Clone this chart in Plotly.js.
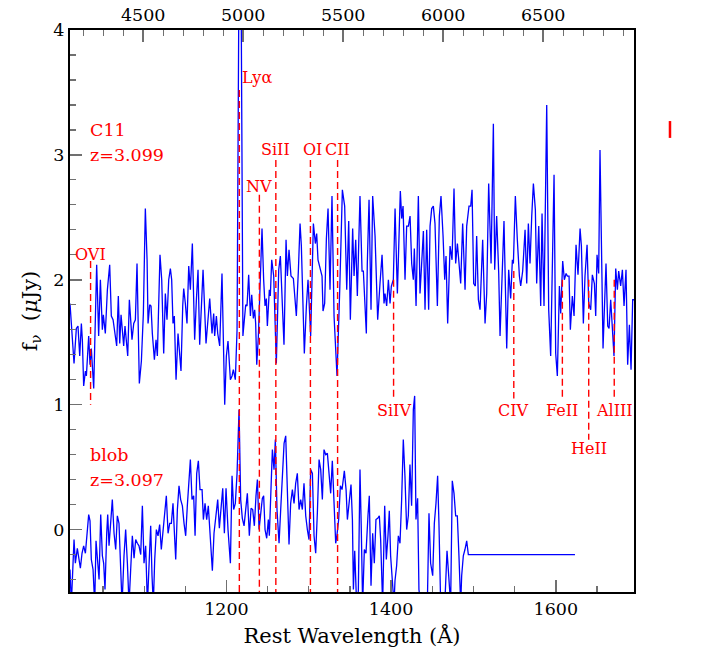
<!DOCTYPE html>
<html>
<head>
<meta charset="utf-8">
<script src="https://cdn.plot.ly/plotly-3.0.1.min.js"></script>
<style>html,body{margin:0;padding:0;background:#fff;}#chart{width:702px;height:655px;}</style>
</head>
<body>
<div id="chart"></div>
<script>
// ---------------- DATA ----------------
// C11 spectrum (rest wavelength in Angstrom, flux in microJy)
const waveC11 = [1010,1013.7,1014.9,1017.7,1019.7,1021.8,1023.8,1025.0,1026.6,1028.7,1029.9,1032.7,1034.3,1035.9,1038.8,1040.0,1042.4,1044.8,1046.9,1049.3,1050.5,1052.9,1055.4,1058.2,1060.2,1062.3,1064.3,1066.7,1068.7,1070.4,1072.0,1073.6,1075.2,1076.8,1078.5,1080.1,1082.1,1083.7,1085.3,1087.4,1089.4,1091.4,1093.0,1094.2,1096.7,1099.1,1101.5,1103.6,1104.8,1106.8,1108.4,1110.0,1112.5,1114.5,1116.1,1119.3,1121.4,1123.8,1125.8,1127.8,1129.9,1131.9,1133.5,1135.1,1136.7,1138.8,1141.2,1144.8,1146.9,1148.1,1150.1,1152.1,1154.2,1156.2,1158.6,1161.4,1163.5,1165.5,1167.5,1171.6,1175.2,1179.7,1182.5,1184.5,1185.7,1187.8,1189.4,1191.8,1194.6,1196.3,1197.9,1199.9,1201.9,1204.8,1206.8,1208.4,1210.8,1212.9,1216.5,1220.0,1223.4,1225.0,1227.0,1229.1,1230.7,1232.7,1234.3,1235.5,1236.8,1238.8,1240.8,1243.2,1245.2,1246.9,1248.5,1249.7,1252.1,1253.3,1255.0,1257.4,1260.6,1263.5,1265.5,1267.9,1269.9,1272.4,1274.0,1276.0,1278.4,1281.3,1284.9,1287.4,1289.4,1291.0,1294.6,1297.1,1299.1,1302.3,1305.6,1308.0,1309.6,1311.2,1313.7,1316.1,1317.3,1319.3,1321.4,1323.4,1325.8,1328.2,1330.7,1334.3,1337.6,1340.8,1343.6,1346.1,1348.5,1350.5,1353.3,1355.0,1357.0,1359.0,1362.2,1364.7,1366.3,1367.9,1369.9,1371.1,1373.2,1375.6,1377.6,1380.5,1383.7,1386.5,1389.0,1391.4,1392.6,1394.6,1396.7,1398.7,1400.3,1402.7,1404.8,1407.6,1409.2,1411.2,1412.9,1414.5,1416.9,1418.9,1421.0,1423.0,1425.0,1427.0,1428.2,1430.3,1433.1,1435.1,1437.1,1439.2,1441.2,1443.2,1445.6,1447.3,1449.3,1451.3,1453.3,1456.2,1458.6,1460.6,1463.1,1465.1,1466.7,1468.7,1471.6,1474.0,1476.4,1478.4,1480.5,1482.5,1484.5,1486.9,1489.8,1491.8,1494.6,1496.7,1498.3,1500.3,1502.3,1503.9,1506.0,1508.0,1511.2,1514.1,1516.1,1518.5,1521.4,1524.2,1525.8,1528.2,1530.7,1532.3,1535.1,1537.1,1540.4,1542.8,1545.2,1547.3,1548.5,1550.9,1553.3,1555.8,1557.4,1559.8,1562.7,1564.7,1566.7,1568.7,1570.8,1572.8,1575.2,1576.8,1579.3,1581.7,1583.3,1585.7,1589.0,1591.4,1593.8,1596.3,1597.9,1599.9,1601.9,1604.4,1606.0,1608.4,1610.4,1612.5,1614.1,1616.1,1617.7,1620.1,1622.2,1624.6,1627.0,1629.5,1631.1,1633.5,1635.5,1638.0,1640.0,1642.4,1644.4,1646.9,1648.5,1650.1,1652.1,1653.7,1655.8,1657.4,1659.0,1661.0,1663.1,1664.7,1666.7,1668.7,1670.7,1672.8,1674.8,1676.4,1678.8,1680.9,1682.9,1685.3,1687.3,1689.4,1691.4,1693.4,1695];
const fluxC11 = [1.81,1.41,1.33,1.61,1.63,1.39,1.65,1.52,1.15,1.27,1.23,1.55,1.32,1.45,1.13,1.47,2.12,1.55,2.00,1.60,1.72,1.57,1.92,2.12,1.71,1.68,1.57,1.47,1.87,1.49,1.72,1.57,1.47,1.63,1.47,1.39,1.84,1.63,1.52,1.65,1.68,2.13,1.68,1.17,1.35,1.73,2.57,2.16,1.65,1.80,1.79,1.57,1.36,1.52,1.39,2.20,2.00,1.41,1.89,1.68,2.00,2.09,2.00,1.65,1.71,1.20,1.57,1.27,1.79,1.93,1.81,1.65,2.11,1.92,2.29,1.52,1.84,2.08,1.48,2.08,1.49,1.85,1.57,1.73,1.55,1.71,1.57,1.47,2.05,1.44,1.00,1.39,1.51,1.20,1.23,1.28,1.20,1.60,6.0,1.55,1.80,1.79,2.04,1.71,1.88,1.69,1.76,1.65,1.32,1.55,1.89,2.41,2.00,1.79,1.85,1.63,1.92,1.87,2.16,2.03,1.33,2.08,2.19,1.75,1.48,2.32,2.03,2.24,2.03,2.01,1.71,2.08,2.45,2.27,1.41,1.79,2.00,1.55,2.45,2.29,2.37,2.16,2.08,2.03,1.75,1.81,2.33,2.57,1.92,2.67,1.71,1.23,1.92,2.72,2.59,1.92,2.47,1.68,2.41,2.03,2.32,1.87,2.67,2.07,2.07,1.84,1.57,2.13,2.64,1.76,2.67,2.35,1.68,1.97,2.20,1.81,1.89,1.79,2.00,1.81,1.95,2.00,2.57,1.89,2.37,2.71,2.49,2.59,2.00,2.43,2.43,2.51,2.13,2.00,2.25,1.79,2.67,1.89,2.13,2.39,1.76,2.40,1.76,2.43,2.57,2.59,2.45,1.79,2.51,2.67,2.35,2.00,2.19,1.65,2.27,2.16,2.73,2.13,2.29,2.11,1.97,2.45,1.92,2.43,2.59,2.59,2.72,1.97,1.95,2.35,1.84,1.76,2.32,1.65,1.89,2.77,2.13,3.25,2.08,2.51,2.05,1.55,2.11,2.47,1.45,2.08,1.85,2.16,2.13,2.67,2.32,2.03,1.95,2.07,2.40,1.97,2.45,2.13,2.51,2.77,2.56,1.97,2.43,1.79,2.53,1.79,3.40,1.76,1.39,2.29,2.84,1.41,1.23,1.95,1.73,2.15,2.00,2.05,2.03,2.03,1.60,1.87,1.71,2.28,2.04,2.41,2.27,1.65,2.03,2.28,1.81,1.76,2.04,1.97,1.71,2.20,2.05,3.04,2.08,1.45,1.76,2.13,1.63,1.61,1.84,1.56,1.39,2.09,1.92,2.07,1.95,2.08,1.79,2.08,1.32,1.64,1.28,1.84,1.84];

// blob spectrum
const waveBlob = [1010,1011.6,1014.9,1016.5,1018.9,1020.6,1022.6,1024.6,1026.6,1028.7,1030.7,1032.7,1034.3,1035.9,1038.0,1040.0,1041.6,1043.6,1045.3,1047.3,1049.3,1050.9,1052.5,1054.6,1055.8,1057.4,1059.0,1061.4,1063.5,1065.5,1067.5,1069.5,1071.6,1073.2,1075.6,1077.6,1079.7,1081.7,1083.7,1085.7,1087.8,1089.8,1091.8,1093.8,1095.9,1097.9,1099.9,1101.9,1104.0,1106.0,1108.0,1109.6,1111.2,1112.9,1114.9,1116.9,1118.9,1120.9,1123.0,1125.0,1127.0,1129.1,1131.1,1133.1,1135.1,1137.2,1138.4,1140.4,1142.4,1144.4,1146.5,1148.5,1150.5,1152.5,1154.6,1156.2,1158.2,1160.2,1161.9,1163.9,1165.9,1167.9,1170.4,1172.0,1174.0,1176.0,1178.0,1180.5,1182.9,1184.9,1187.4,1189.4,1191.4,1193.4,1195.5,1197.5,1199.5,1201.9,1204.8,1206.8,1208.8,1210.8,1212.9,1215.3,1217.3,1219.3,1221.4,1223.4,1225.4,1227.8,1229.9,1231.9,1233.9,1235.9,1237.6,1239.6,1241.6,1243.6,1245.2,1246.9,1248.9,1250.9,1252.1,1253.8,1255.8,1257.8,1259.4,1261.4,1263.9,1265.9,1268.3,1270.0,1272.0,1274.0,1276.0,1278.0,1280.1,1282.1,1284.1,1286.1,1288.2,1290.2,1292.2,1294.2,1296.3,1298.3,1300.3,1302.3,1304.4,1306.4,1308.4,1310.4,1312.5,1314.5,1316.5,1318.5,1320.6,1322.6,1324.6,1326.6,1328.6,1330.7,1332.7,1334.3,1336.3,1338.4,1340.4,1343.2,1345.3,1346.9,1349.3,1351.3,1353.0,1354.2,1355.8,1358.1,1360.2,1362.2,1363.8,1365.4,1367.5,1369.5,1371.9,1373.5,1375.6,1377.6,1379.6,1381.6,1383.7,1385.7,1387.3,1389.7,1392.2,1394.2,1396.2,1397.8,1399.4,1401.5,1403.5,1404.7,1406.7,1408.8,1410.8,1412.8,1414.8,1416.8,1418.9,1420.9,1422.9,1424.9,1427.0,1428.6,1430.2,1432.2,1433.8,1435.9,1438.3,1441.1,1444.0,1446.0,1448.0,1450.5,1452.5,1454.5,1456.5,1458.1,1460.2,1463.4,1465.8,1467.9,1469.9,1472.3,1474.3,1476.4,1478.4,1480.4,1482.4,1484.5,1485.7,1487.7,1489.7,1491.8,1493.8,1623.3];
const fluxBlob = [-0.32,-0.60,-0.08,-0.27,-0.15,-0.21,-0.31,-0.19,-0.13,-0.19,-0.05,0.12,0.07,-0.24,-0.32,-0.60,-0.09,-0.29,-0.40,0.12,-0.21,-0.27,-0.48,-0.03,0.12,-0.13,0.05,0.24,-0.03,-0.16,0.11,0.05,-0.32,-0.60,-0.21,0.00,-0.27,-0.60,-0.32,-0.05,-0.23,-0.08,-0.11,-0.13,-0.20,0.19,-0.27,-0.13,-0.60,-0.29,0.03,-0.37,-0.60,-0.24,0.00,-0.05,0.04,-0.16,-0.03,0.11,0.27,-0.03,0.05,0.05,0.21,-0.08,-0.24,0.16,0.35,0.24,0.19,0.05,-0.05,0.19,0.37,0.56,0.24,0.27,-0.05,0.45,0.55,0.32,0.32,0.08,0.21,0.08,0.19,-0.05,-0.33,-0.03,0.11,0.24,0.01,0.21,0.33,-0.03,0.33,0.00,-0.27,0.43,0.16,0.21,0.45,0.96,0.24,0.09,0.03,0.16,0.29,-0.05,0.17,0.16,0.03,0.27,0.40,0.00,0.11,0.25,0.27,0.00,-0.07,0.08,-0.05,0.24,0.64,0.48,0.72,0.16,-0.11,0.16,0.48,0.69,0.75,0.27,-0.12,0.21,0.32,0.21,0.37,0.45,0.16,0.24,0.16,0.37,0.11,0.00,-0.08,0.48,0.45,-0.05,-0.19,0.13,0.56,0.48,0.24,0.64,0.60,0.61,0.45,0.29,0.55,0.19,-0.11,-0.04,0.08,0.35,0.32,0.47,0.32,0.08,0.24,0.36,0.08,-0.48,-0.17,-0.60,-0.49,0.48,0.00,-0.60,-0.16,-0.19,0.11,0.27,-0.45,-0.03,-0.27,0.08,0.09,0.11,-0.08,-0.60,0.19,-0.24,-0.05,0.15,-0.21,-0.43,-0.60,-0.41,-0.29,-0.05,-0.11,0.24,0.72,0.43,0.00,0.11,0.52,0.19,0.96,1.07,0.08,0.25,-0.48,-0.60,-0.60,-0.60,-0.60,0.13,-0.27,-0.37,0.05,0.21,0.43,0.05,-0.60,-0.60,-0.50,-0.17,-0.37,-0.60,0.39,0.29,0.11,0.11,-0.21,-0.60,-0.37,-0.21,-0.16,-0.09,-0.20,-0.20];

// Spectral features (rest wavelength, Angstrom)
const lineNames = ["OVI", "Lyα", "NV", "SiII", "OI", "CII", "SiIV", "CIV", "FeII", "HeII", "AlIII"];
const lineWaves = [1035, 1215.67, 1240, 1260, 1302, 1335, 1403, 1549, 1608, 1640, 1671];

const objectLabels = ["C11", "z=3.099", "blob", "z=3.097"];

const restRange = [1010, 1695];
const obsRange = [4134, 6954];
const yRange = [-0.5, 4];

// ---------------- LAYOUT CONFIG ----------------
// dashed marker extents [top, bottom] and label positions [x, y]
const markExtent = [[2.15,1.0],[3.52,-0.6],[2.68,-0.6],[2.96,-0.6],[2.96,-0.6],[2.96,-0.6],[2.0,1.05],[2.07,1.05],[2.0,1.05],[2.0,0.72],[2.0,1.05]];
const labelPos = [[1035,2.2],[1237,3.62],[1240,2.75],[1260,3.04],[1304,3.04],[1335,3.04],[1403.5,0.95],[1549,0.95],[1608,0.95],[1640,0.65],[1671,0.95]];
const objLabelPos = [[1031.5,3.2],[1031.5,3.0],[1031.5,0.6],[1031.5,0.4]];

const FONT = "DejaVu Serif, serif";
const RED = "#ff0000";
const BLUE = "#0000ff";
const TICKC = "#707070";

const traces = [
  {x: waveC11, y: fluxC11, type: "scatter", mode: "lines", line: {color: BLUE, width: 1.3}, hoverinfo: "skip", showlegend: false},
  {x: waveBlob, y: fluxBlob, type: "scatter", mode: "lines", line: {color: BLUE, width: 1.3}, hoverinfo: "skip", showlegend: false}
];
lineWaves.forEach((w, i) => {
  traces.push({x: [w, w], y: markExtent[i], type: "scatter", mode: "lines",
    line: {color: RED, width: 1.4, dash: "7px,4px"}, hoverinfo: "skip", showlegend: false});
});
// carrier trace for the top (observed wavelength) axis
traces.push({x: obsRange, y: [-10, -10], xaxis: "x2", yaxis: "y", type: "scatter", mode: "lines",
  line: {color: "rgba(0,0,0,0)"}, hoverinfo: "skip", showlegend: false});

const annotations = [];
lineNames.forEach((n, i) => {
  annotations.push({x: labelPos[i][0], y: labelPos[i][1], xref: "x", yref: "y", text: n, showarrow: false,
    xanchor: "center", yanchor: "middle", font: {family: FONT, size: 16, color: RED}});
});
objectLabels.forEach((t, i) => {
  annotations.push({x: objLabelPos[i][0], y: objLabelPos[i][1], xref: "x", yref: "y", text: t, showarrow: false,
    xanchor: "left", yanchor: "middle", font: {family: FONT, size: 17.5, color: RED}});
});

const layout = {
  width: 702, height: 655,
  margin: {l: 70, r: 68, t: 30, b: 63, pad: 0},
  paper_bgcolor: "#fff", plot_bgcolor: "#fff",
  font: {family: FONT, size: 17, color: "#000"},
  showlegend: false,
  xaxis: {
    range: restRange, showgrid: false, zeroline: false,
    showline: true, linecolor: "#000", linewidth: 2, mirror: false,
    ticks: "inside", ticklen: 12, tickwidth: 1.5, tickcolor: TICKC,
    tick0: 0, dtick: 200, tickfont: {family: FONT, size: 17.5},
    minor: {dtick: 50, ticks: "inside", ticklen: 6, tickwidth: 1.2, tickcolor: TICKC, showgrid: false},
    title: {text: "Rest Wavelength (Å)", font: {family: FONT, size: 21}, standoff: 10}
  },
  xaxis2: {
    range: obsRange, overlaying: "x", side: "top", anchor: "y",
    showgrid: false, zeroline: false,
    showline: true, linecolor: "#000", linewidth: 2,
    ticks: "inside", ticklen: 12, tickwidth: 1.5, tickcolor: TICKC,
    tick0: 0, dtick: 500, tickfont: {family: FONT, size: 17.5},
    minor: {dtick: 100, ticks: "inside", ticklen: 6, tickwidth: 1.2, tickcolor: TICKC, showgrid: false}
  },
  yaxis: {
    range: yRange, showgrid: false, zeroline: false,
    showline: true, linecolor: "#000", linewidth: 2, mirror: true,
    ticks: "inside", ticklen: 12, tickwidth: 1.5, tickcolor: TICKC,
    tick0: 0, dtick: 1, tickfont: {family: FONT, size: 17.5},
    minor: {dtick: 0.2, ticks: "inside", ticklen: 6, tickwidth: 1.2, tickcolor: TICKC, showgrid: false},
    title: {text: "f<sub>ν</sub>  (<i>μ</i>Jy)", font: {family: FONT, size: 21}, standoff: 10}
  },
  annotations: annotations,
  shapes: [
    {type: "line", xref: "paper", yref: "paper", x0: 1.0638, x1: 1.0638, y0: 0.808, y1: 0.838,
     line: {color: RED, width: 2.5}}
  ]
};

Plotly.newPlot("chart", traces, layout, {staticPlot: true, displayModeBar: false});
</script>
</body>
</html>
